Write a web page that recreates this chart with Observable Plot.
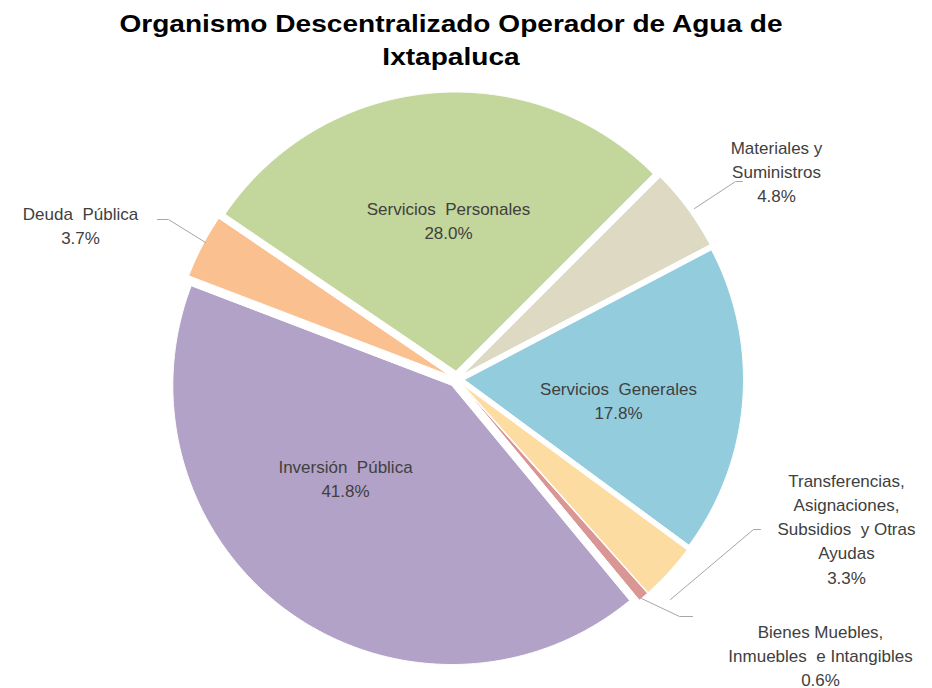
<!DOCTYPE html>
<html><head><meta charset="utf-8">
<script src="https://cdn.jsdelivr.net/npm/d3@7"></script>
<script src="https://cdn.jsdelivr.net/npm/@observablehq/plot@0.6"></script>
<style>
html,body{margin:0;padding:0;background:#fff}
body{width:932px;height:688px;overflow:hidden;font-family:"Liberation Sans",Arial,sans-serif}
#title{box-sizing:border-box;width:902px;height:78px;padding-top:8px;text-align:center;font-weight:bold;font-size:23px;line-height:33px;color:#000}
#title span{display:block;transform:scaleX(1.22);transform-origin:center}
#chart svg{display:block}
</style></head><body>
<div id="title"><span>Organismo Descentralizado Operador de Agua de</span><span>Ixtapaluca</span></div>
<div id="chart"></div>
<script>
// ---- data ----
const categories = ["Servicios Personales","Materiales y Suministros","Servicios Generales","Transferencias, Asignaciones, Subsidios y Otras Ayudas","Bienes Muebles, Inmuebles e Intangibles","Inversión Pública","Deuda Pública"];
const percents = [28.0, 4.8, 17.8, 3.3, 0.6, 41.8, 3.7];
const labelTexts = ["Servicios  Personales","Materiales y\nSuministros","Servicios  Generales","Transferencias,\nAsignaciones,\nSubsidios  y Otras\nAyudas","Bienes Muebles,\nInmuebles  e Intangibles","Inversión  Pública","Deuda  Pública"];
const colors = ["#C3D69B","#DDD9C3","#93CDDD","#FDDCA2","#D99694","#B3A2C7","#FAC090"];

// ---- layout ----
const W = 932, H = 610;
const cx = 456, cy = 300.5, R = 279, explode = 8;
const startDeg = 304.2;
// label centres and leader lines (svg pixel space)
const labelPos = [
  {x:448, y:141}, {x:776, y:92}, {x:618, y:321}, {x:846, y:449}, {x:820, y:576}, {x:345, y:399}, {x:80, y:146}
];
const leaders = [
  null,
  [[742,103],[735,103],[694,130]],
  null,
  [[760,451],[753,451],[670,521]],
  [[692,538],[679,538],[641,520]],
  null,
  [[157,141],[168,141],[205,164]]
];

// ---- geometry from values ----
const total = d3.sum(percents);
const slices = [];
let acc = startDeg * Math.PI / 180;
percents.forEach((p, i) => {
  const a0 = acc, a1 = acc + p / total * 2 * Math.PI;
  acc = a1;
  const mid = (a0 + a1) / 2;
  const ox = cx + explode * Math.sin(mid), oy = cy - explode * Math.cos(mid);
  slices.push({cat: categories[i], x: ox, y: oy});
  const n = Math.max(2, Math.ceil((a1 - a0) / (Math.PI / 360)));
  for (let k = 0; k <= n; k++) {
    const t = a0 + (a1 - a0) * k / n;
    slices.push({cat: categories[i], x: ox + R * Math.sin(t), y: oy - R * Math.cos(t)});
  }
});
const labels = categories.map((c, i) => ({cat: c, x: labelPos[i].x, y: labelPos[i].y, text: labelTexts[i] + "\n" + percents[i].toFixed(1) + "%"}));
const leaderPts = [];
leaders.forEach((l, i) => { if (l) l.forEach(([x, y]) => leaderPts.push({cat: categories[i], x, y})); });

const chart = Plot.plot({
  width: W, height: H,
  margin: 0,
  x: {domain: [0, W], range: [0, W], axis: null},
  y: {domain: [0, H], range: [0, H], axis: null},
  color: {domain: categories, range: colors},
  style: {fontFamily: '"Liberation Sans", Arial, sans-serif', background: "#fff"},
  marks: [
    Plot.line(slices, {x: "x", y: "y", z: "cat", fill: "cat", stroke: "#fff", strokeWidth: 1, curve: "linear-closed"}),
    Plot.line(leaderPts, {x: "x", y: "y", z: "cat", stroke: "#A6A6A6", strokeWidth: 1}),
    Plot.text(labels, {x: "x", y: "y", text: "text", fontSize: 17, lineHeight: 1.42, fill: "#404040", textAnchor: "middle", lineAnchor: "middle"})
  ]
});
document.getElementById("chart").appendChild(chart);
</script>
</body></html>
